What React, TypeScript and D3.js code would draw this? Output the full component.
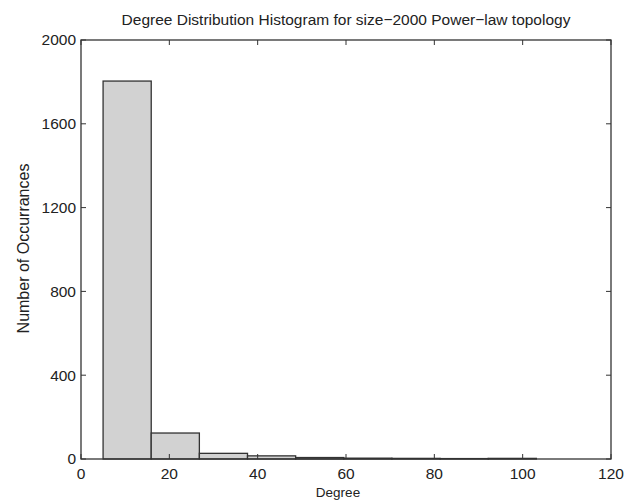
import React, { useEffect, useRef } from 'react';
import * as d3 from 'd3';

// histogram bins (Degree), 10 equal-width bins starting at 5
const binStart = 5;
const binWidth = 10.9;
const counts = [1804, 124, 27, 15, 7, 4, 3, 2, 3, 0];
const xTicks = [0, 20, 40, 60, 80, 100, 120];
const yTicks = [0, 400, 800, 1200, 1600, 2000];

const App = () => {
  const ref = useRef<SVGSVGElement>(null);

  useEffect(() => {
    const svg = d3.select(ref.current);
    svg.selectAll('*').remove();

    const margin = { top: 40, right: 18, bottom: 45, left: 81 };
    const W = 629, H = 504;
    const width = W - margin.left - margin.right;
    const height = H - margin.top - margin.bottom;
    const ink = '#333';
    const txt = '#222';
    const font = 'Liberation Sans, Arial, sans-serif';

    const x = d3.scaleLinear().domain([0, 120]).range([0, width]);
    const y = d3.scaleLinear().domain([0, 2000]).range([height, 0]);

    const g = svg.append('g').attr('transform', `translate(${margin.left},${margin.top})`);

    const bins = counts.map((c, i) => ({ x0: binStart + i * binWidth, x1: binStart + (i + 1) * binWidth, c }));

    g.selectAll('rect.bar')
      .data(bins)
      .enter().append('rect')
      .attr('class', 'bar')
      .attr('x', d => x(d.x0))
      .attr('y', d => y(d.c))
      .attr('width', d => x(d.x1) - x(d.x0))
      .attr('height', d => height - y(d.c))
      .attr('fill', '#d2d2d2')
      .attr('stroke', ink)
      .attr('stroke-width', 1.3);

    // box
    g.append('rect')
      .attr('width', width).attr('height', height)
      .attr('fill', 'none').attr('stroke', ink).attr('stroke-width', 1.3);

    const tl = 5;
    // ticks point inward, on all four sides
    xTicks.forEach(t => {
      g.append('line').attr('x1', x(t)).attr('x2', x(t)).attr('y1', height).attr('y2', height - tl).attr('stroke', ink);
      g.append('line').attr('x1', x(t)).attr('x2', x(t)).attr('y1', 0).attr('y2', tl).attr('stroke', ink);
      g.append('text').attr('x', x(t)).attr('y', height + 19.5)
        .attr('text-anchor', 'middle').attr('font-family', font).attr('font-size', 15.5).attr('fill', txt)
        .text(t);
    });
    yTicks.forEach(t => {
      g.append('line').attr('x1', 0).attr('x2', tl).attr('y1', y(t)).attr('y2', y(t)).attr('stroke', ink);
      g.append('line').attr('x1', width).attr('x2', width - tl).attr('y1', y(t)).attr('y2', y(t)).attr('stroke', ink);
      g.append('text').attr('x', -5).attr('y', y(t)).attr('dy', '0.35em')
        .attr('text-anchor', 'end').attr('font-family', font).attr('font-size', 15.5).attr('fill', txt)
        .text(t);
    });

    g.append('text').attr('x', width / 2 - 8).attr('y', height + 38)
      .attr('text-anchor', 'middle').attr('font-family', font).attr('font-size', 13.5).attr('fill', txt)
      .text('Degree');

    g.append('text').attr('transform', `translate(-52,${height / 2 - 1}) rotate(-90)`)
      .attr('text-anchor', 'middle').attr('font-family', font).attr('font-size', 16).attr('fill', txt)
      .text('Number of Occurrances');

    g.append('text').attr('x', width / 2).attr('y', -15)
      .attr('text-anchor', 'middle').attr('font-family', font).attr('font-size', 15.5).attr('fill', txt)
      .text('Degree Distribution Histogram for size\u22122000 Power\u2212law topology');
  }, []);

  return (
    <svg ref={ref} width={629} height={504} style={{ position: 'absolute', left: 0, top: 0, background: '#fff' }} />
  );
};

export default App;
